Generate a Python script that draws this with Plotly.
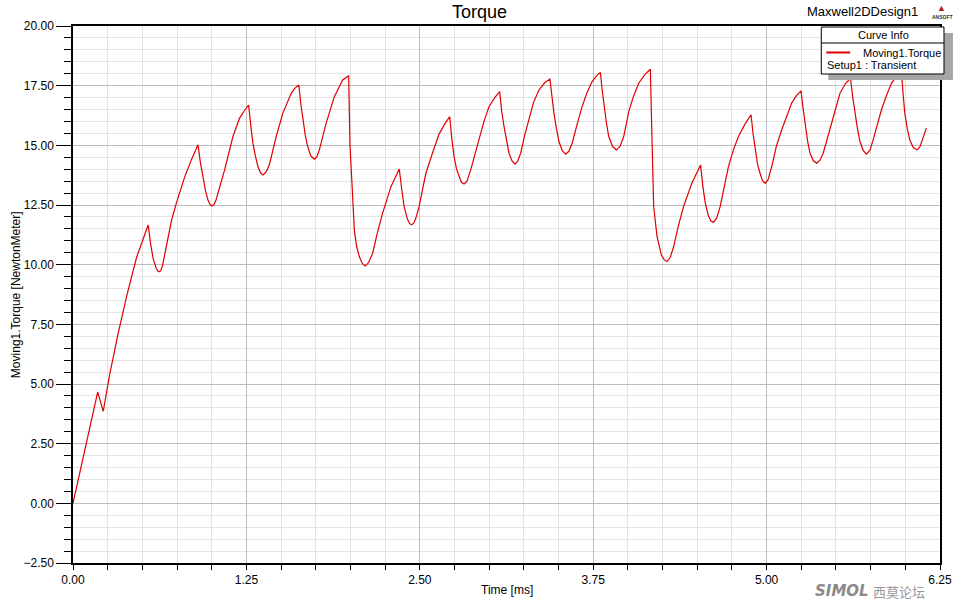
import plotly.graph_objects as go

# ---------------- data ----------------
time_ms = [
    0.000, 0.099, 0.178, 0.218, 0.266, 0.326, 0.386, 0.458, 0.505, 0.542,
    0.560, 0.578, 0.600, 0.612, 0.622, 0.633, 0.645, 0.660, 0.674, 0.710,
    0.746, 0.806, 0.853, 0.901,
    0.918, 0.937, 0.955, 0.973, 0.988, 1.002, 1.016, 1.031, 1.060, 1.093,
    1.153, 1.201, 1.235, 1.266,
    1.285, 1.297, 1.315, 1.333, 1.352, 1.369, 1.385, 1.400, 1.417, 1.440,
    1.465, 1.513, 1.573, 1.600, 1.628,
    1.642, 1.656, 1.675, 1.692, 1.715, 1.740, 1.758, 1.776, 1.800, 1.825,
    1.884, 1.944, 1.987,
    1.997, 2.011, 2.028, 2.045, 2.064, 2.085, 2.107, 2.130, 2.160, 2.195,
    2.232, 2.292, 2.352,
    2.370, 2.387, 2.410, 2.425, 2.440, 2.455, 2.470, 2.495, 2.520, 2.544,
    2.591, 2.639, 2.680, 2.716,
    2.730, 2.747, 2.765, 2.783, 2.800, 2.819, 2.840, 2.867, 2.895, 2.927,
    2.960, 2.999, 3.040, 3.076,
    3.090, 3.107, 3.125, 3.143, 3.165, 3.186, 3.205, 3.227, 3.255, 3.287,
    3.320, 3.359, 3.400, 3.438,
    3.452, 3.467, 3.485, 3.503, 3.527, 3.551, 3.575, 3.598, 3.635, 3.670,
    3.705, 3.742, 3.775, 3.802,
    3.813, 3.826, 3.845, 3.862, 3.890, 3.917, 3.943, 3.970, 4.006, 4.040,
    4.078, 4.120, 4.162,
    4.174, 4.186, 4.210, 4.241, 4.262, 4.282, 4.305, 4.330, 4.365, 4.401,
    4.461, 4.524,
    4.540, 4.558, 4.580, 4.600, 4.617, 4.640, 4.665, 4.695, 4.725, 4.760,
    4.797, 4.845, 4.888,
    4.902, 4.917, 4.935, 4.953, 4.970, 4.989, 5.010, 5.037, 5.070, 5.109,
    5.145, 5.181, 5.215, 5.248,
    5.262, 5.277, 5.295, 5.313, 5.337, 5.361, 5.385, 5.408, 5.438, 5.468,
    5.529, 5.570, 5.605,
    5.620, 5.637, 5.655, 5.673, 5.697, 5.720, 5.745, 5.768, 5.798, 5.828,
    5.865, 5.900, 5.940, 5.972,
    5.984, 5.996, 6.014, 6.032, 6.058, 6.084, 6.105, 6.120, 6.137, 6.152,
]
torque_nm = [
    0.00, 2.66, 4.66, 3.85, 5.45, 7.13, 8.66, 10.30, 11.05, 11.66,
    10.85, 10.25, 9.85, 9.73, 9.70, 9.76, 9.95, 10.40, 10.90, 11.85,
    12.60, 13.69, 14.39, 15.02,
    14.30, 13.69, 13.10, 12.71, 12.52, 12.46, 12.52, 12.71, 13.30, 13.97,
    15.37, 16.14, 16.45, 16.69,
    15.65, 15.09, 14.55, 14.11, 13.85, 13.76, 13.84, 13.98, 14.22, 14.80,
    15.37, 16.35, 17.18, 17.40, 17.53,
    16.75, 16.07, 15.40, 14.95, 14.55, 14.42, 14.52, 14.81, 15.35, 15.93,
    17.04, 17.74, 17.92,
    14.95, 13.41, 11.46, 10.75, 10.34, 10.05, 9.95, 10.08, 10.48, 11.35,
    12.16, 13.27, 14.01,
    13.15, 12.43, 11.92, 11.73, 11.67, 11.73, 11.92, 12.43, 13.15, 13.83,
    14.67, 15.47, 15.90, 16.20,
    15.30, 14.53, 14.00, 13.69, 13.45, 13.38, 13.50, 13.97, 14.60, 15.23,
    15.95, 16.62, 17.00, 17.25,
    16.45, 15.79, 15.15, 14.67, 14.35, 14.21, 14.33, 14.67, 15.40, 16.07,
    16.80, 17.32, 17.62, 17.78,
    17.00, 16.35, 15.70, 15.16, 14.78, 14.63, 14.75, 15.09, 15.90, 16.62,
    17.20, 17.67, 17.92, 18.05,
    17.40, 16.77, 15.95, 15.37, 14.95, 14.81, 14.95, 15.37, 16.40, 17.05,
    17.60, 17.95, 18.19,
    15.23, 12.43, 11.18, 10.41, 10.20, 10.13, 10.30, 10.76, 11.65, 12.43,
    13.41, 14.18,
    13.30, 12.58, 12.05, 11.82, 11.78, 11.95, 12.43, 13.30, 14.11, 14.80,
    15.37, 15.90, 16.28,
    15.50, 14.81, 14.20, 13.83, 13.52, 13.41, 13.55, 14.11, 14.95, 15.65,
    16.25, 16.77, 17.08, 17.28,
    16.60, 15.95, 15.20, 14.67, 14.35, 14.25, 14.38, 14.67, 15.30, 15.93,
    17.18, 17.60, 17.81,
    17.05, 16.35, 15.70, 15.16, 14.78, 14.63, 14.80, 15.23, 15.90, 16.49,
    17.10, 17.60, 17.92, 18.09,
    17.15, 16.35, 15.70, 15.23, 14.90, 14.81, 14.93, 15.16, 15.45, 15.72,
]
series_name = "Moving1.Torque"
setup_name = "Setup1 : Transient"
x_ticks = [0.00, 1.25, 2.50, 3.75, 5.00, 6.25]
y_ticks = [-2.50, 0.00, 2.50, 5.00, 7.50, 10.00, 12.50, 15.00, 17.50, 20.00]

# ---------------- layout geometry ----------------
W, H = 964, 602
L, R, T, B = 73, 22, 26, 39
PW, PH = W - L - R, H - T - B


def px(x):
    return (x - L) / PW


def py(y):
    return (H - B - y) / PH


FONT = "Arial, 'Liberation Sans', sans-serif"
RED = "#e00000"

fig = go.Figure()
fig.add_trace(go.Scatter(
    x=time_ms, y=torque_nm, mode="lines", name=series_name,
    line=dict(color=RED, width=1.2), showlegend=False,
))

axis_common = dict(
    showline=True, linecolor="black", linewidth=1.5, mirror=True,
    ticks="outside", tickcolor="black", tickwidth=1.2,
    tickfont=dict(family=FONT, size=12, color="black"),
    showgrid=True, gridcolor="#bdbdbd", gridwidth=1, zeroline=False,
    tickformat=".2f",
)

fig.update_xaxes(
    **axis_common, range=[0, 6.25], tickvals=x_ticks, ticklen=5,
    minor=dict(dtick=0.25, tick0=0, ticks="outside", ticklen=5, tickcolor="black",
               showgrid=True, gridcolor="#e3e3e3", gridwidth=1),
)
fig.update_yaxes(
    **axis_common, range=[-2.5, 20], tickvals=y_ticks, ticklen=15,
    minor=dict(dtick=0.5, tick0=0, ticks="outside", ticklen=7, tickcolor="black",
               showgrid=True, gridcolor="#e3e3e3", gridwidth=1),
)

shapes = [
    # legend shadow
    dict(type="rect", xref="paper", yref="paper", x0=px(830), x1=px(955), y0=py(80), y1=py(33),
         fillcolor="#a6a6a6", line=dict(width=0), layer="above"),
    # legend box
    dict(type="rect", xref="paper", yref="paper", x0=px(823), x1=px(946), y0=py(74), y1=py(27),
         fillcolor="white", line=dict(color="black", width=1), layer="above"),
    # separator
    dict(type="line", xref="paper", yref="paper", x0=px(823), x1=px(946), y0=py(43), y1=py(43),
         line=dict(color="black", width=1), layer="above"),
    # legend line sample
    dict(type="line", xref="paper", yref="paper", x0=px(828), x1=px(852), y0=py(52.5), y1=py(52.5),
         line=dict(color=RED, width=2), layer="above"),
]

annotations = [
    dict(text="Torque", xref="paper", yref="paper", x=px(480), y=py(12), showarrow=False,
         font=dict(family=FONT, size=18, color="black"), xanchor="center", yanchor="middle"),
    dict(text="Maxwell2DDesign1", xref="paper", yref="paper", x=px(864), y=py(12), showarrow=False,
         font=dict(family=FONT, size=13, color="black"), xanchor="center", yanchor="middle"),
    dict(text="▲", xref="paper", yref="paper", x=px(944), y=py(8), showarrow=False,
         font=dict(family=FONT, size=9, color="#b01818"), xanchor="center", yanchor="middle"),
    dict(text="<b>ANSOFT</b>", xref="paper", yref="paper", x=px(945), y=py(17), showarrow=False,
         font=dict(family=FONT, size=5, color="#333333"), xanchor="center", yanchor="middle"),
    dict(text="Curve Info", xref="paper", yref="paper", x=px(885), y=py(35), showarrow=False,
         font=dict(family=FONT, size=11, color="black"), xanchor="center", yanchor="middle"),
    dict(text=series_name, xref="paper", yref="paper", x=px(945), y=py(52.5), showarrow=False,
         font=dict(family=FONT, size=11, color="black"), xanchor="right", yanchor="middle"),
    dict(text=setup_name, xref="paper", yref="paper", x=px(827), y=py(65), showarrow=False,
         font=dict(family=FONT, size=11, color="black"), xanchor="left", yanchor="middle"),
    dict(text="Time [ms]", xref="paper", yref="paper", x=px(508), y=py(590), showarrow=False,
         font=dict(family=FONT, size=12, color="black"), xanchor="center", yanchor="middle"),
    dict(text="Moving1.Torque [NewtonMeter]", xref="paper", yref="paper", x=px(16), y=py(295),
         showarrow=False, textangle=-90,
         font=dict(family=FONT, size=12, color="black"), xanchor="center", yanchor="middle"),
    dict(text="<b><i>SIMOL</i></b>", xref="paper", yref="paper", x=px(872), y=py(591), showarrow=False,
         font=dict(family="'DejaVu Sans', sans-serif", size=15, color="#8a8a8a"),
         xanchor="right", yanchor="middle", borderpad=0),
    dict(text="西莫论坛", xref="paper", yref="paper", x=px(874), y=py(591), showarrow=False,
         font=dict(family="'Noto Sans CJK SC', sans-serif", size=13, color="#9a9a9a"),
         xanchor="left", yanchor="middle", borderpad=0),
]

fig.update_layout(
    width=W, height=H,
    margin=dict(l=L, r=R, t=T, b=B, pad=0),
    paper_bgcolor="white", plot_bgcolor="white",
    shapes=shapes, annotations=annotations,
    showlegend=False,
    font=dict(family=FONT, color="black"),
)

fig.write_html("out.html")
